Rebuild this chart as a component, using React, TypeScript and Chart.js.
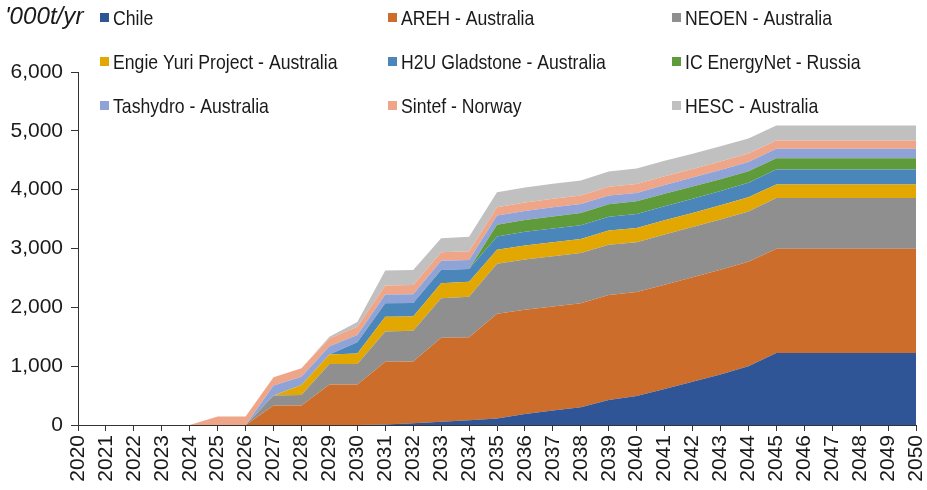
import React, { useEffect, useRef } from 'react';
import { Chart, registerables } from 'chart.js';

Chart.register(...registerables);

// ---------- data ----------
const years = [
  '2020', '2021', '2022', '2023', '2024', '2025', '2026', '2027', '2028', '2029',
  '2030', '2031', '2032', '2033', '2034', '2035', '2036', '2037', '2038', '2039',
  '2040', '2041', '2042', '2043', '2044', '2045', '2046', '2047', '2048', '2049', '2050',
];

const chile = [0, 0, 0, 0, 0, 0, 0, 0, 0, 0, 0, 10, 30, 55, 80, 110, 185, 245, 300, 425, 495, 610, 735, 860, 1000, 1225, 1225, 1225, 1225, 1225, 1225];
const areh = [0, 0, 0, 0, 0, 0, 0, 330, 330, 690, 690, 1065, 1050, 1430, 1410, 1780, 1775, 1770, 1770, 1785, 1765, 1775, 1775, 1780, 1775, 1770, 1770, 1770, 1770, 1770, 1770];
const neoen = [0, 0, 0, 0, 0, 0, 0, 170, 180, 345, 345, 515, 520, 670, 690, 850, 855, 855, 855, 855, 845, 855, 855, 855, 855, 865, 865, 865, 865, 865, 865];
const engie = [0, 0, 0, 0, 0, 0, 0, 0, 170, 165, 180, 250, 245, 255, 255, 238, 238, 238, 238, 240, 245, 240, 240, 240, 240, 227, 227, 227, 227, 227, 227];
const h2u = [0, 0, 0, 0, 0, 0, 0, 0, 0, 0, 190, 228, 228, 225, 215, 226, 230, 232, 234, 236, 238, 240, 242, 244, 248, 255, 255, 255, 255, 255, 255];
const icEnergyNet = [0, 0, 0, 0, 0, 0, 0, 0, 0, 0, 0, 0, 0, 0, 0, 199, 200, 205, 205, 210, 215, 210, 205, 200, 195, 192, 192, 192, 192, 192, 192];
const tashydro = [0, 0, 0, 0, 0, 0, 0, 170, 140, 140, 125, 150, 150, 155, 155, 158, 155, 155, 155, 150, 142, 150, 155, 155, 158, 160, 160, 160, 160, 160, 160];
const sintef = [0, 0, 0, 0, 0, 145, 145, 140, 145, 130, 140, 155, 155, 145, 150, 142, 145, 145, 145, 150, 153, 150, 145, 145, 142, 141, 141, 141, 141, 141, 141];
const hesc = [0, 0, 0, 0, 0, 0, 0, 0, 0, 30, 80, 255, 255, 240, 243, 255, 255, 255, 255, 258, 261, 260, 258, 257, 256, 255, 255, 255, 255, 255, 255];

const seriesNames = [
  'Chile', 'AREH - Australia', 'NEOEN - Australia',
  'Engie Yuri Project - Australia', 'H2U Gladstone - Australia', 'IC EnergyNet - Russia',
  'Tashydro - Australia', 'Sintef - Norway', 'HESC - Australia',
];
const seriesValues = [chile, areh, neoen, engie, h2u, icEnergyNet, tashydro, sintef, hesc];
const seriesColors = ['#2F5597', '#CD6D2C', '#8F8F8F', '#E2A700', '#4A86B9', '#5F9A3B', '#8FA3D7', '#EFA588', '#C0C0C0'];

const unitLabel = "'000t/yr";
const yTickValues = [0, 1000, 2000, 3000, 4000, 5000, 6000];

// ---------- layout ----------
const W = 927;
const H = 490;
const FONT = '"Liberation Sans", Arial, sans-serif';
const TEXT = '#1a1a1a';
const AXIS = '#333333';
const legendColX = [100, 388, 672];
const legendRowY = [18, 62, 106];

const legendPlugin = {
  id: 'customLegend',
  afterDraw(chart: any) {
    const ctx = chart.ctx as CanvasRenderingContext2D;
    ctx.save();
    ctx.textBaseline = 'middle';
    ctx.textAlign = 'left';
    // unit label
    ctx.save();
    ctx.translate(5, legendRowY[0]);
    ctx.scale(1.05, 1);
    ctx.font = `italic 23px ${FONT}`;
    ctx.fillStyle = TEXT;
    ctx.fillText(unitLabel, 0, 0);
    ctx.restore();
    chart.data.datasets.forEach((ds: any, i: number) => {
      const col = i % 3;
      const row = Math.floor(i / 3);
      const bx = legendColX[col];
      const y = legendRowY[row];
      ctx.fillStyle = ds.backgroundColor;
      ctx.fillRect(bx, y - 5, 9, 9);
      ctx.save();
      ctx.translate(bx + 13, y + 1);
      ctx.scale(0.84, 1);
      ctx.font = `21px ${FONT}`;
      ctx.fillStyle = TEXT;
      ctx.fillText(ds.label, 0, 0);
      ctx.restore();
    });
    ctx.restore();
  },
};

export default function App() {
  const canvasRef = useRef<HTMLCanvasElement | null>(null);

  useEffect(() => {
    document.body.style.margin = '0';
    const canvas = canvasRef.current;
    if (!canvas) return;
    const chart = new Chart(canvas, {
      type: 'line',
      data: {
        labels: years,
        datasets: seriesValues.map((vals, i) => ({
          label: seriesNames[i],
          data: vals,
          backgroundColor: seriesColors[i],
          borderColor: seriesColors[i],
          borderWidth: 0,
          pointRadius: 0,
          pointHoverRadius: 0,
          tension: 0,
          fill: i === 0 ? 'origin' : '-1',
        })),
      },
      options: {
        responsive: false,
        animation: false,
        devicePixelRatio: 1,
        events: [],
        layout: { padding: { top: 72, right: 11, left: 0, bottom: 0 } },
        plugins: {
          legend: { display: false },
          tooltip: { enabled: false },
          title: { display: false },
        },
        scales: {
          x: {
            type: 'category',
            offset: false,
            grid: {
              display: true,
              drawOnChartArea: false,
              drawTicks: true,
              tickLength: 6,
              color: AXIS,
              offset: false,
            },
            border: { display: true, color: AXIS, width: 1 },
            ticks: {
              autoSkip: false,
              minRotation: 90,
              maxRotation: 90,
              padding: 4,
              color: TEXT,
              font: { family: FONT, size: 21 },
            },
            afterFit(s: any) {
              s.height = H - 425;
              s.paddingLeft = 0;
              s.paddingRight = 0;
            },
          },
          y: {
            stacked: true,
            min: 0,
            max: 6000,
            afterBuildTicks(s: any) {
              s.ticks = yTickValues.map((v) => ({ value: v }));
            },
            grid: {
              display: true,
              drawOnChartArea: false,
              drawTicks: true,
              tickLength: 7,
              color: AXIS,
            },
            border: { display: true, color: AXIS, width: 1 },
            ticks: {
              padding: 8,
              color: TEXT,
              font: { family: FONT, size: 21 },
              callback: (v: any) => Number(v).toLocaleString('en-US'),
            },
            afterFit(s: any) {
              s.width = 78;
              s.paddingTop = 0;
              s.paddingBottom = 0;
            },
          },
        },
      },
      plugins: [legendPlugin],
    });
    return () => chart.destroy();
  }, []);

  return (
    <div style={{ width: W, height: H, position: 'relative', background: '#fff' }}>
      <canvas ref={canvasRef} width={W} height={H} style={{ display: 'block', width: W, height: H }} />
    </div>
  );
}
